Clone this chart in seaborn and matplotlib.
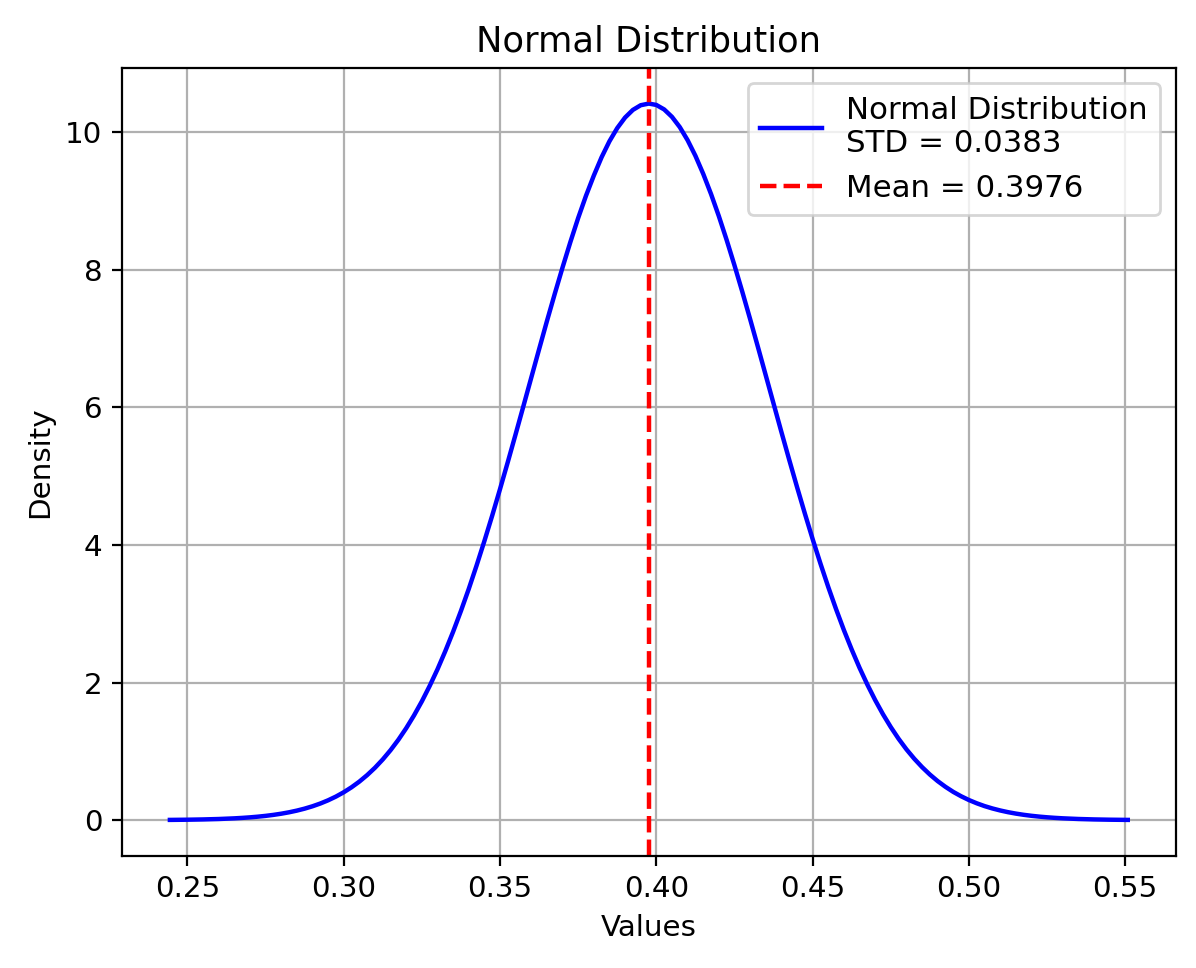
import numpy as np
import pandas as pd
import seaborn as sns
import matplotlib
matplotlib.use("Agg")
import matplotlib.pyplot as plt

# values
mean_value = 0.3976
std_value = 0.0383

x_values = [
    0.2444, 0.245, 0.250, 0.255, 0.260, 0.265, 0.2675, 0.270, 0.2725, 0.275,
    0.2775, 0.280, 0.2825, 0.285, 0.2875, 0.290, 0.2925, 0.295, 0.2975, 0.300,
    0.3025, 0.305, 0.3075, 0.310, 0.3125, 0.315, 0.3175, 0.320, 0.3225, 0.325,
    0.3275, 0.330, 0.3325, 0.335, 0.3375, 0.340, 0.3425, 0.345, 0.3475, 0.350,
    0.3525, 0.355, 0.3575, 0.360, 0.3625, 0.365, 0.3675, 0.370, 0.3725, 0.375,
    0.3775, 0.380, 0.3825, 0.385, 0.3875, 0.390, 0.3925, 0.395, 0.3976, 0.400,
    0.4025, 0.405, 0.4075, 0.410, 0.4125, 0.415, 0.4175, 0.420, 0.4225, 0.425,
    0.4275, 0.430, 0.4325, 0.435, 0.4375, 0.440, 0.4425, 0.445, 0.4475, 0.450,
    0.4525, 0.455, 0.4575, 0.460, 0.4625, 0.465, 0.4675, 0.470, 0.4725, 0.475,
    0.4775, 0.480, 0.4825, 0.485, 0.4875, 0.490, 0.4925, 0.495, 0.4975, 0.500,
    0.5025, 0.505, 0.5075, 0.510, 0.5125, 0.515, 0.5175, 0.520, 0.5225, 0.525,
    0.5275, 0.530, 0.535, 0.540, 0.545, 0.550, 0.5508,
]
density = [
    0.0035, 0.0037, 0.0062, 0.0102, 0.0164, 0.0260, 0.0325, 0.0405, 0.0502, 0.0620,
    0.0763, 0.0934, 0.1139, 0.1383, 0.1672, 0.2013, 0.2413, 0.2881, 0.3423, 0.4052,
    0.4775, 0.5601, 0.6547, 0.7614, 0.8825, 1.018, 1.169, 1.337, 1.523, 1.727,
    1.951, 2.193, 2.457, 2.739, 3.041, 3.361, 3.701, 4.057, 4.427, 4.812,
    5.207, 5.611, 6.021, 6.433, 6.845, 7.253, 7.649, 8.034, 8.403, 8.753,
    9.076, 9.369, 9.637, 9.868, 10.060, 10.213, 10.324, 10.392, 10.416, 10.396,
    10.331, 10.223, 10.074, 9.884, 9.657, 9.394, 9.101, 8.779, 8.432, 8.064,
    7.680, 7.283, 6.877, 6.466, 6.054, 5.643, 5.239, 4.843, 4.458, 4.085,
    3.729, 3.388, 3.066, 2.762, 2.479, 2.214, 1.970, 1.745, 1.539, 1.352,
    1.182, 1.029, 0.8927, 0.771, 0.6626, 0.567, 0.4837, 0.410, 0.3470, 0.292,
    0.2448, 0.204, 0.1697, 0.1405, 0.1157, 0.0950, 0.0775, 0.0631, 0.0511, 0.0412,
    0.0331, 0.0265, 0.0167, 0.0104, 0.0063, 0.0038, 0.0035,
]

df = pd.DataFrame({"Values": x_values, "Density": density})

plt.rcParams["font.size"] = 10.6

fig = plt.figure(figsize=(5.98, 4.84), dpi=200)
ax = fig.add_axes([0.102, 0.116, 0.881, 0.814])

sns.lineplot(data=df, x="Values", y="Density", color="blue", linewidth=1.6,
             ax=ax, label=f"Normal Distribution\nSTD = {std_value:.4f}")
ax.axvline(mean_value, color="red", linestyle="--", linewidth=1.6,
           label=f"Mean = {mean_value:.4f}")

ax.set_title("Normal Distribution", fontsize=12.7)
ax.set_xlabel("Values")
ax.set_ylabel("Density")
ax.grid(True)
ax.legend(loc="upper right", fontsize=11.1)

fig.savefig("out.png", dpi=200)
